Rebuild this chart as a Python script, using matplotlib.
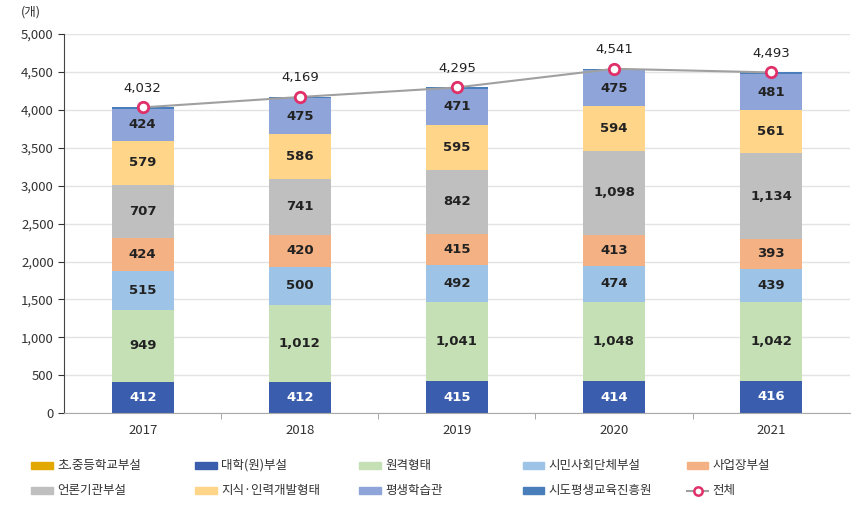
import matplotlib.pyplot as plt
from matplotlib.patches import Rectangle
from matplotlib.lines import Line2D

plt.rcParams['font.family'] = ['Noto Sans CJK KR', 'DejaVu Sans']

years = ['2017', '2018', '2019', '2020', '2021']
categories = ['초.중등학교부설', '대학(원)부설', '원격형태', '시민사회단체부설', '사업장부설',
              '언론기관부설', '지식·인력개발형태', '평생학습관', '시도평생교육진흥원']
school = [5, 5, 5, 6, 6]
univ = [412, 412, 415, 414, 416]
remote = [949, 1012, 1041, 1048, 1042]
civic = [515, 500, 492, 474, 439]
workplace = [424, 420, 415, 413, 393]
media = [707, 741, 842, 1098, 1134]
knowledge = [579, 586, 595, 594, 561]
lifelong = [424, 475, 471, 475, 481]
provincial = [17, 18, 19, 19, 21]
total = [4032, 4169, 4295, 4541, 4493]

series = [school, univ, remote, civic, workplace, media, knowledge, lifelong, provincial]
colors = ['#E3A800', '#3A5DAE', '#C5E0B4', '#9DC3E6', '#F4B183',
          '#BFBFBF', '#FFD58A', '#8FA4D8', '#4A7EBB']
show_label = [False, True, True, True, True, True, True, True, False]
label_color = ['#222222', 'white'] + ['#222222'] * 7

fig = plt.figure(figsize=(8.67, 5.07), dpi=100)
ax = fig.add_axes([0.074, 0.185, 0.906, 0.748])

x = list(range(len(years)))
bottom = [0] * len(years)
for vals, c, show, lc in zip(series, colors, show_label, label_color):
    bars = ax.bar(x, vals, 0.395, bottom=bottom, color=c, zorder=2)
    if show:
        labels = [f'{v:,}' for v in vals]
        ax.bar_label(bars, labels=labels, label_type='center', color=lc,
                     fontsize=9.5, fontweight='bold', family='DejaVu Sans')
    bottom = [b + v for b, v in zip(bottom, vals)]

ax.plot(x, total, color='#A0A0A0', lw=1.5, zorder=3,
        marker='o', markersize=7.5, markerfacecolor='white',
        markeredgecolor='#E0306A', markeredgewidth=2)
for xi, t in zip(x, total):
    ax.annotate(f'{t:,}', (xi, t), xytext=(0, 9), textcoords='offset points',
                ha='center', va='bottom', fontsize=9.5, color='#222222',
                family='DejaVu Sans')

ax.set_xlim(-0.5, 4.5)
ax.set_ylim(0, 5000)
ax.set_yticks(range(0, 5001, 500))
ax.set_yticklabels([f'{v:,}' for v in range(0, 5001, 500)])
ax.set_xticks(x)
ax.set_xticklabels(years)
ax.set_xticks([0.5, 1.5, 2.5, 3.5], minor=True)
ax.tick_params(axis='x', which='major', length=0, pad=8, labelsize=9.5, colors='#333333')
ax.tick_params(axis='x', which='minor', length=4, color='#999999')
ax.tick_params(axis='y', length=4, labelsize=9.5, colors='#333333')
ax.yaxis.grid(True, color='#E3E3E3', lw=1, zorder=0)
for s in ['top', 'right']:
    ax.spines[s].set_visible(False)
ax.spines['left'].set_color('#444444')
ax.spines['bottom'].set_color('#AAAAAA')
ax.text(-0.03, 1.04, '(개)', transform=ax.transAxes, ha='right', va='bottom',
        fontsize=9, color='#333333')

# legend, laid out in an even grid like the original
names = categories + ['전체']
for i, name in enumerate(names):
    row, col = divmod(i, 5)
    lx = 0.036 + col * 0.189
    ly = 0.082 - row * 0.05
    if i < len(categories):
        fig.patches.append(Rectangle((lx, ly - 0.007), 0.025, 0.014,
                                     transform=fig.transFigure, color=colors[i]))
    else:
        fig.lines.append(Line2D([lx, lx + 0.0125, lx + 0.025], [ly, ly, ly],
                                transform=fig.transFigure, color='#A0A0A0', lw=1.5,
                                marker='o', markersize=6, markevery=[1],
                                markerfacecolor='white', markeredgecolor='#E0306A',
                                markeredgewidth=1.8))
    fig.text(lx + 0.03, ly, name, ha='left', va='center', fontsize=9, color='#333333')

fig.savefig('out.png', dpi=100)
